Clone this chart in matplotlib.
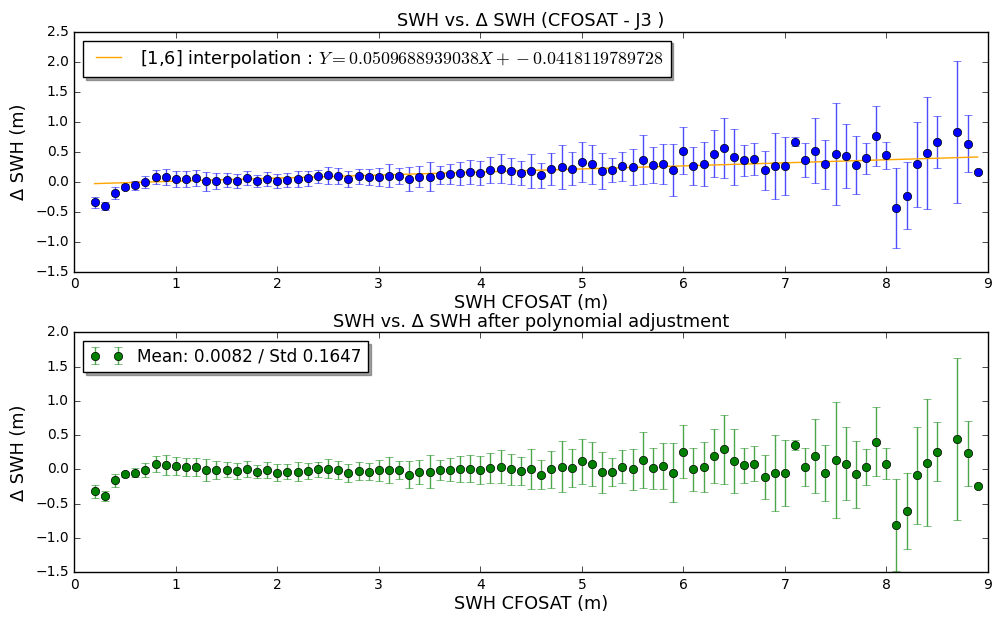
import numpy as np
import matplotlib
matplotlib.use("Agg")
import matplotlib.pyplot as plt

# === Daten ===
swh = [0.2, 0.3, 0.4, 0.5, 0.6, 0.7, 0.8, 0.9, 1.0, 1.1, 1.2, 1.3, 1.4, 1.5, 1.6, 1.7,
       1.8, 1.9, 2.0, 2.1, 2.2, 2.3, 2.4, 2.5, 2.6, 2.7, 2.8, 2.9, 3.0, 3.1, 3.2, 3.3,
       3.4, 3.5, 3.6, 3.7, 3.8, 3.9, 4.0, 4.1, 4.2, 4.3, 4.4, 4.5, 4.6, 4.7, 4.8, 4.9,
       5.0, 5.1, 5.2, 5.3, 5.4, 5.5, 5.6, 5.7, 5.8, 5.9, 6.0, 6.1, 6.2, 6.3, 6.4, 6.5,
       6.6, 6.7, 6.8, 6.9, 7.0, 7.1, 7.2, 7.3, 7.4, 7.5, 7.6, 7.7, 7.8, 7.9, 8.0, 8.1,
       8.2, 8.3, 8.4, 8.5, 8.7, 8.8, 8.9]

dswh = [-0.34, -0.40, -0.18, -0.08, -0.06, -0.01, 0.08, 0.08, 0.05, 0.05, 0.06, 0.01,
        0.01, 0.03, 0.01, 0.06, 0.01, 0.045, 0.01, 0.03, 0.045, 0.055, 0.09, 0.105,
        0.095, 0.045, 0.09, 0.08, 0.085, 0.10, 0.10, 0.045, 0.085, 0.085, 0.12, 0.13,
        0.14, 0.16, 0.14, 0.20, 0.22, 0.18, 0.14, 0.18, 0.11, 0.21, 0.25, 0.22,
        0.33, 0.29, 0.18, 0.19, 0.26, 0.25, 0.37, 0.28, 0.30, 0.20, 0.52, 0.26,
        0.30, 0.47, 0.57, 0.41, 0.36, 0.38, 0.19, 0.26, 0.26, 0.67, 0.36, 0.52,
        0.29, 0.47, 0.43, 0.28, 0.39, 0.77, 0.44, -0.44, -0.23, 0.29, 0.48, 0.66,
        0.83, 0.63, 0.16]

std = [0.09, 0.07, 0.10, 0.04, 0.07, 0.10, 0.11, 0.14, 0.13, 0.13, 0.13, 0.16,
       0.13, 0.11, 0.12, 0.12, 0.10, 0.12, 0.12, 0.11, 0.14, 0.12, 0.11, 0.14,
       0.13, 0.13, 0.13, 0.13, 0.15, 0.19, 0.13, 0.20, 0.17, 0.24, 0.15, 0.17,
       0.19, 0.20, 0.20, 0.22, 0.24, 0.22, 0.20, 0.29, 0.21, 0.27, 0.37, 0.28,
       0.33, 0.32, 0.30, 0.20, 0.24, 0.30, 0.41, 0.30, 0.33, 0.43, 0.39, 0.32,
       0.37, 0.39, 0.50, 0.47, 0.26, 0.26, 0.32, 0.55, 0.48, 0.07, 0.28, 0.54,
       0.41, 0.85, 0.53, 0.49, 0.26, 0.50, 0.23, 0.67, 0.56, 0.71, 0.93, 0.43,
       1.18, 0.475, np.nan]

# nach polynomialer Korrektur
dswh_adj = [-0.32, -0.39, -0.16, -0.07, -0.045, -0.01, 0.08, 0.065, 0.045, 0.03, 0.03,
            -0.005, -0.005, -0.005, -0.02, 0.005, -0.03, -0.005, -0.045, -0.035, -0.035,
            -0.02, 0.005, 0.01, -0.005, -0.055, -0.02, -0.03, -0.015, -0.005, -0.01,
            -0.075, -0.035, -0.035, -0.01, -0.005, 0.005, 0.01, -0.01, 0.025, 0.04,
            0.0, -0.025, 0.005, -0.075, 0.0, 0.04, 0.02, 0.12, 0.075, -0.04, -0.035,
            0.04, 0.005, 0.14, 0.02, 0.05, -0.05, 0.26, 0.0, 0.035, 0.195, 0.295,
            0.125, 0.06, 0.085, -0.11, -0.05, -0.05, 0.355, 0.035, 0.19, -0.05, 0.14,
            0.085, -0.07, 0.035, 0.405, 0.085, -0.815, -0.605, -0.085, 0.10, 0.26,
            0.44, 0.235, -0.245]

a = 0.0509688939038
b = -0.0418119789728

# === Diagramm ===
plt.style.use("classic")
plt.rcParams["mathtext.fontset"] = "cm"
plt.rcParams["xtick.labelsize"] = 10
plt.rcParams["ytick.labelsize"] = 10
txt = 12.8

fig = plt.figure(figsize=(9.92, 6.17), dpi=100, facecolor="white")
ax1 = fig.add_axes([0.0749, 0.5596, 0.9209, 0.389])
ax2 = fig.add_axes([0.0749, 0.0724, 0.9209, 0.389])

x = np.array(swh)
fit = a * x + b

ax1.errorbar(swh, dswh, yerr=std, fmt="o", color="b", ecolor=(0, 0, 1, 0.7),
             markersize=6, capsize=3)
ax1.plot(x, fit, color="orange",
         label=r"[1,6] interpolation : $Y=%sX+%s$" % (repr(a), repr(b)))
ax1.set_xlim(0, 9)
ax1.set_ylim(-1.5, 2.5)
ax1.set_title("SWH vs. Δ SWH (CFOSAT - J3 )", fontsize=txt, pad=4)
ax1.set_xlabel("SWH CFOSAT (m)", fontsize=txt, labelpad=2)
ax1.set_ylabel("Δ SWH (m)", fontsize=txt)
ax1.legend(loc="upper left", shadow=True, fontsize=txt)

ax2.errorbar(swh, dswh_adj, yerr=std, fmt="o", color="g", ecolor=(0, 0.5, 0, 0.7),
             markersize=6, capsize=3,
             label="Mean: 0.0082 / Std 0.1647")
ax2.set_xlim(0, 9)
ax2.set_ylim(-1.5, 2.0)
ax2.set_title("SWH vs. Δ SWH after polynomial adjustment", fontsize=txt, pad=4)
ax2.set_xlabel("SWH CFOSAT (m)", fontsize=txt, labelpad=2)
ax2.set_ylabel("Δ SWH (m)", fontsize=txt)
ax2.legend(loc="upper left", shadow=True, fontsize=12.2, numpoints=2)

plt.savefig("out.png", dpi=100)
